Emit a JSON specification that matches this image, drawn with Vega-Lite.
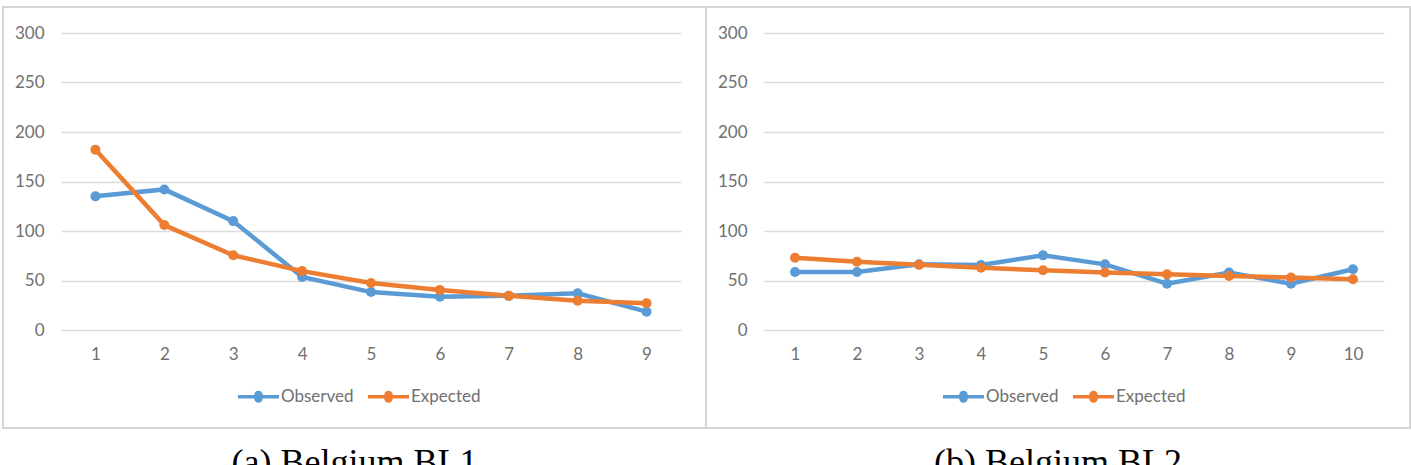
{
  "$schema": "https://vega.github.io/schema/vega-lite/v6.json",
  "padding": {"left": 2, "top": 6, "right": 0, "bottom": 0},
  "bounds": "flush",
  "spacing": 0,
  "datasets": {
    "a": [
      {"x": 1, "series": "Observed", "v": 135}, {"x": 2, "series": "Observed", "v": 142}, {"x": 3, "series": "Observed", "v": 110},
      {"x": 4, "series": "Observed", "v": 53.5}, {"x": 5, "series": "Observed", "v": 38.3}, {"x": 6, "series": "Observed", "v": 33.5},
      {"x": 7, "series": "Observed", "v": 34.5}, {"x": 8, "series": "Observed", "v": 37}, {"x": 9, "series": "Observed", "v": 18.5},
      {"x": 1, "series": "Expected", "v": 182}, {"x": 2, "series": "Expected", "v": 106}, {"x": 3, "series": "Expected", "v": 75.5},
      {"x": 4, "series": "Expected", "v": 59.5}, {"x": 5, "series": "Expected", "v": 47.5}, {"x": 6, "series": "Expected", "v": 40.5},
      {"x": 7, "series": "Expected", "v": 34.5}, {"x": 8, "series": "Expected", "v": 29.5}, {"x": 9, "series": "Expected", "v": 27}
    ],
    "b": [
      {"x": 1, "series": "Observed", "v": 58.6}, {"x": 2, "series": "Observed", "v": 58.6}, {"x": 3, "series": "Observed", "v": 66.3},
      {"x": 4, "series": "Observed", "v": 65.6}, {"x": 5, "series": "Observed", "v": 75.4}, {"x": 6, "series": "Observed", "v": 66.3},
      {"x": 7, "series": "Observed", "v": 46.8}, {"x": 8, "series": "Observed", "v": 58}, {"x": 9, "series": "Observed", "v": 46.8},
      {"x": 10, "series": "Observed", "v": 61.3},
      {"x": 1, "series": "Expected", "v": 73}, {"x": 2, "series": "Expected", "v": 69}, {"x": 3, "series": "Expected", "v": 65.8},
      {"x": 4, "series": "Expected", "v": 62.9}, {"x": 5, "series": "Expected", "v": 60.3}, {"x": 6, "series": "Expected", "v": 58},
      {"x": 7, "series": "Expected", "v": 56.2}, {"x": 8, "series": "Expected", "v": 54.5}, {"x": 9, "series": "Expected", "v": 53},
      {"x": 10, "series": "Expected", "v": 51.2}
    ]
  },
  "resolve": {"legend": {"color": "independent"}, "scale": {"x": "independent", "y": "independent", "color": "independent"}},
  "hconcat": [
    {
      "width": 703,
      "height": 421,
      "data": {"name": "a"},
      "title": {"text": "(a) Belgium BL1"},
      "encoding": {
        "x": {"field": "x", "type": "quantitative",
              "scale": {"domain": [0.5, 9.5], "range": [58, 678], "nice": false, "zero": false},
              "axis": {"values": [1, 2, 3, 4, 5, 6, 7, 8, 9], "format": "d", "offset": -82, "title": null}},
        "y": {"field": "v", "type": "quantitative",
              "scale": {"domain": [0, 300], "range": [323, 26], "nice": false},
              "axis": {"values": [0, 50, 100, 150, 200, 250, 300], "offset": -41, "title": null, "grid": true}},
        "color": {"field": "series", "type": "nominal",
                  "scale": {"domain": ["Observed", "Expected"], "range": ["#5B9BD5", "#ED7D31"]},
                  "legend": {"orient": "none", "legendX": 235, "legendY": 369, "direction": "horizontal", "title": null}}
      },
      "layer": [
        {"mark": {"type": "line", "strokeWidth": 4.5}},
        {"mark": {"type": "point", "filled": true, "size": 100, "opacity": 1}}
      ]
    },
    {
      "width": 704,
      "height": 421,
      "data": {"name": "b"},
      "title": {"text": "(b) Belgium BL2"},
      "encoding": {
        "x": {"field": "x", "type": "quantitative",
              "scale": {"domain": [0.5, 10.5], "range": [58, 678], "nice": false, "zero": false},
              "axis": {"values": [1, 2, 3, 4, 5, 6, 7, 8, 9, 10], "format": "d", "offset": -82, "title": null}},
        "y": {"field": "v", "type": "quantitative",
              "scale": {"domain": [0, 300], "range": [323, 26], "nice": false},
              "axis": {"values": [0, 50, 100, 150, 200, 250, 300], "offset": -41, "title": null, "grid": true}},
        "color": {"field": "series", "type": "nominal",
                  "scale": {"domain": ["Observed", "Expected"], "range": ["#5B9BD5", "#ED7D31"]},
                  "legend": {"orient": "none", "legendX": 237, "legendY": 369, "direction": "horizontal", "title": null}}
      },
      "layer": [
        {"mark": {"type": "line", "strokeWidth": 4.5}},
        {"mark": {"type": "point", "filled": true, "size": 100, "opacity": 1}}
      ]
    }
  ],
  "config": {
    "background": "white",
    "view": {"stroke": "#d6d6d6", "strokeWidth": 2},
    "axis": {"labelFont": "Lato", "labelFontSize": 17, "labelColor": "#707070", "domain": false, "ticks": false, "tickSize": 0,
             "labelPadding": 0, "gridColor": "#dcdcdc", "gridWidth": 1.5},
    "axisX": {"grid": false},
    "legend": {"labelFont": "Lato", "labelFontSize": 17, "labelColor": "#707070", "columnPadding": 14, "labelOffset": 2,
               "symbolType": "M-1,-0.085H-0.21A0.21,0.21 0 0,1 0.21,-0.085H1V0.085H0.21A0.21,0.21 0 0,1 -0.21,0.085H-1Z",
               "symbolSize": 1681, "symbolStrokeWidth": 0},
    "title": {"orient": "bottom", "anchor": "middle", "font": "Liberation Serif", "fontSize": 36, "fontWeight": "normal",
              "color": "#000000", "offset": 18}
  }
}
